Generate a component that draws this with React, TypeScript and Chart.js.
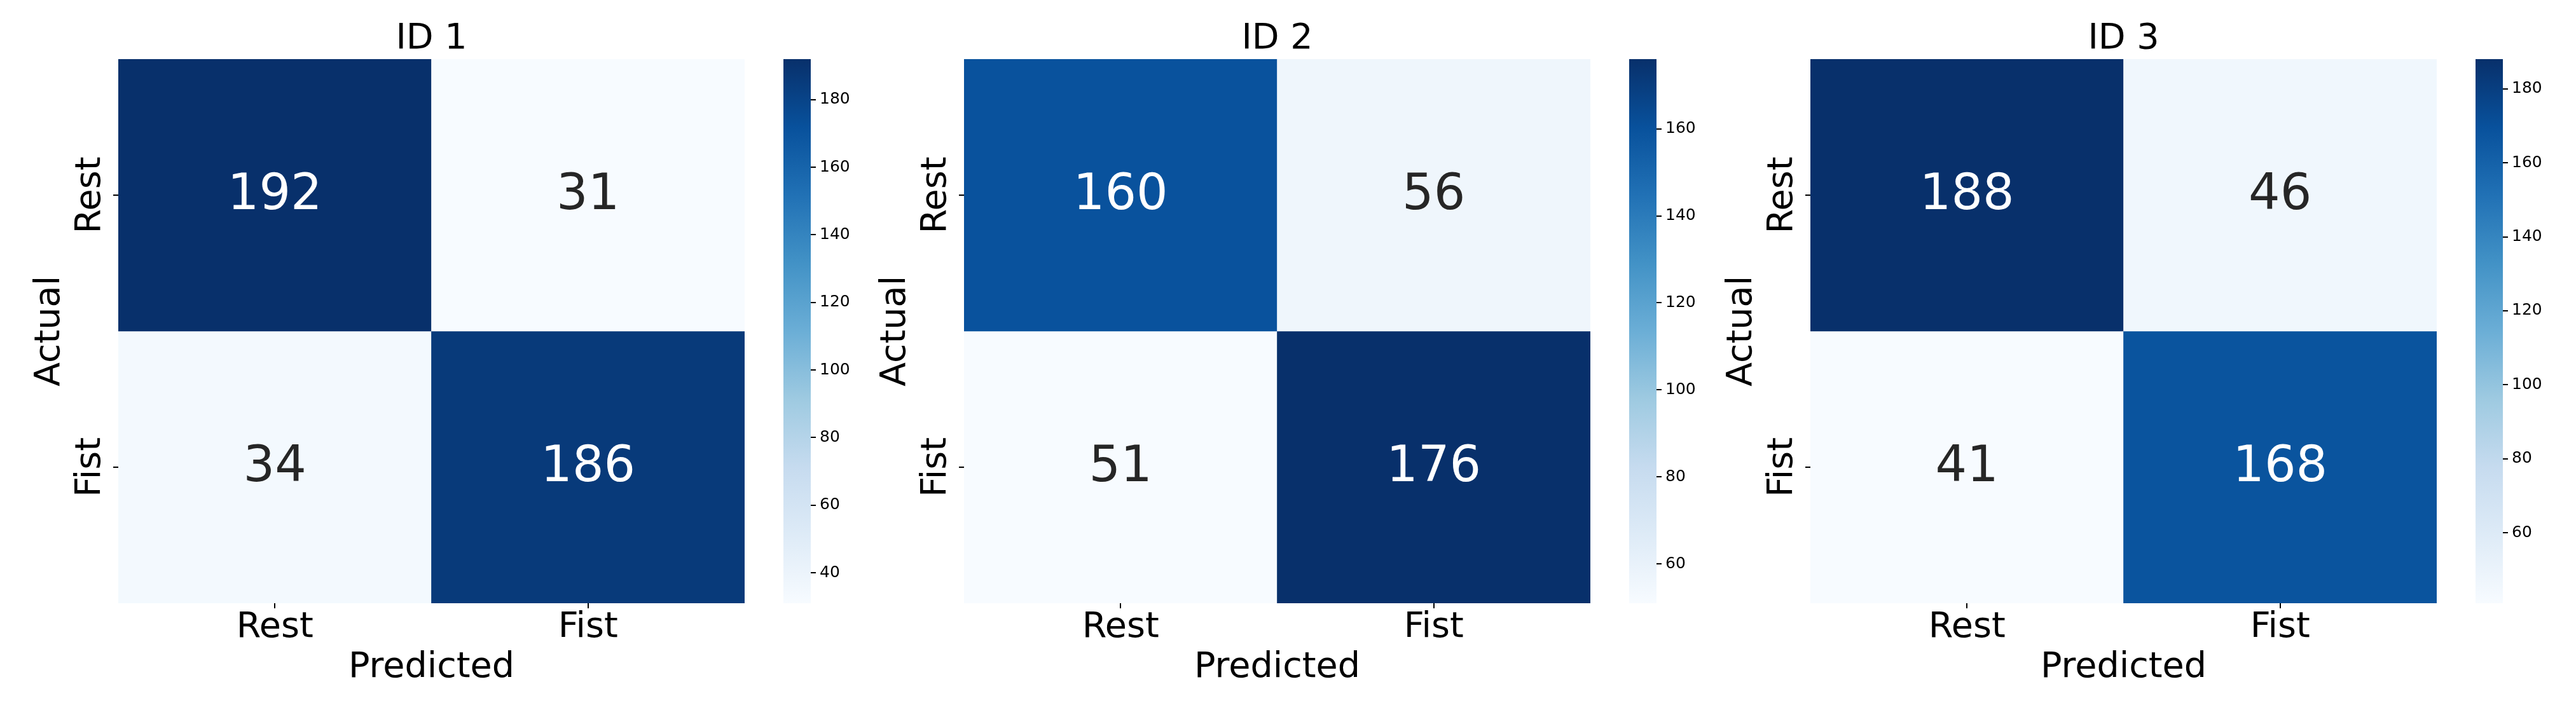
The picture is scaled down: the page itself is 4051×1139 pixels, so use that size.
import React, { useEffect, useRef } from 'react';
import { Chart, registerables } from 'chart.js';

Chart.register(...registerables);

// ---------------- data ----------------
const panelTitles = ['ID 1', 'ID 2', 'ID 3'];
const predictedLabels = ['Rest', 'Fist'];
const actualLabels = ['Rest', 'Fist'];
const id1Values = [
  [192, 31],
  [34, 186],
];
const id2Values = [
  [160, 56],
  [51, 176],
];
const id3Values = [
  [188, 46],
  [41, 168],
];
const id1ColorbarTicks = [40, 60, 80, 100, 120, 140, 160, 180];
const id2ColorbarTicks = [60, 80, 100, 120, 140, 160];
const id3ColorbarTicks = [60, 80, 100, 120, 140, 160, 180];
const xAxisTitle = 'Predicted';
const yAxisTitle = 'Actual';

const panelValues = [id1Values, id2Values, id3Values];
const panelTicks = [id1ColorbarTicks, id2ColorbarTicks, id3ColorbarTicks];

// matplotlib "Blues" colormap stops
const BLUES: number[][] = [
  [0.9686, 0.9843, 1.0],
  [0.8706, 0.9216, 0.9686],
  [0.7765, 0.8588, 0.9373],
  [0.6196, 0.7922, 0.8824],
  [0.4196, 0.6824, 0.8392],
  [0.2588, 0.5725, 0.7765],
  [0.1294, 0.4431, 0.7098],
  [0.0314, 0.3176, 0.6118],
  [0.0314, 0.1882, 0.4196],
];

// ---------------- layout ----------------
const FAMILY = "'DejaVu Sans', sans-serif";
const W = 4051;
const H = 1139;
const PANEL_X = [0, 1330, 2661];
const HEAT_W = 1356;
const AREA_LEFT = 186;
const AREA_RIGHT = 1171;
const AREA_TOP = 93;
const AREA_BOTTOM = 949;
const CB_OFFSET = 1200;
const CB_W = 200;
const CB_LEFT = 32;
const CB_RIGHT = 75;
const BIG = 55.6;
const ANNOT = 78;
const SMALL = 25;

function bluesRgb(t: number): number[] {
  const tt = Math.max(0, Math.min(1, t)) * (BLUES.length - 1);
  const i = Math.min(BLUES.length - 2, Math.floor(tt));
  const f = tt - i;
  const a = BLUES[i];
  const b = BLUES[i + 1];
  return [0, 1, 2].map((k) => a[k] + (b[k] - a[k]) * f);
}
function rgbStr(c: number[]): string {
  return `rgb(${Math.round(c[0] * 255)},${Math.round(c[1] * 255)},${Math.round(c[2] * 255)})`;
}
function luminance(c: number[]): number {
  const lin = c.map((v) => (v <= 0.03928 ? v / 12.92 : Math.pow((v + 0.055) / 1.055, 2.4)));
  return 0.2126 * lin[0] + 0.7152 * lin[1] + 0.0722 * lin[2];
}

function heatConfig(title: string, values: number[][]): any {
  const flat = values.flat();
  const vmin = Math.min(...flat);
  const vmax = Math.max(...flat);
  const norm = (v: number) => (v - vmin) / (vmax - vmin);
  const datasets = values.map((row, r) => ({
    label: actualLabels[r],
    data: row.map(() => [r, r + 1]),
    backgroundColor: row.map((v) => rgbStr(bluesRgb(norm(v)))),
    borderWidth: 0,
    categoryPercentage: 1,
    barPercentage: 1,
    grouped: false,
  }));
  const tickGrid = {
    display: true,
    drawOnChartArea: false,
    drawTicks: true,
    tickLength: 8,
    offset: false,
    color: '#000',
    lineWidth: 2,
  };
  const cellText = {
    id: 'cellText',
    afterDatasetsDraw(chart: any) {
      const ctx = chart.ctx;
      ctx.save();
      ctx.font = `${ANNOT}px ${FAMILY}`;
      ctx.textAlign = 'center';
      ctx.textBaseline = 'alphabetic';
      values.forEach((row, r) => {
        const meta = chart.getDatasetMeta(r);
        row.forEach((v, c) => {
          const el = meta.data[c];
          const cx = el.x;
          const cy = (el.y + el.base) / 2;
          ctx.fillStyle = luminance(bluesRgb(norm(v))) > 0.408 ? '#262626' : '#ffffff';
          ctx.fillText(String(v), cx, cy + 22);
        });
      });
      ctx.restore();
    },
  };
  return {
    type: 'bar',
    data: { labels: predictedLabels, datasets },
    options: {
      responsive: false,
      animation: false,
      events: [],
      layout: { padding: { left: 0, right: HEAT_W - AREA_RIGHT, top: 0, bottom: 0 } },
      plugins: {
        legend: { display: false },
        tooltip: { enabled: false },
        title: {
          display: true,
          text: title,
          fullSize: false,
          color: '#000',
          font: { size: BIG, family: FAMILY, weight: 'normal', lineHeight: 1.0 },
          padding: { top: 33.7, bottom: AREA_TOP - 33.7 - BIG },
        },
      },
      scales: {
        x: {
          type: 'category',
          offset: true,
          grid: tickGrid,
          border: { display: false },
          ticks: {
            color: '#000',
            font: { size: BIG, family: FAMILY },
            padding: -3,
            minRotation: 0,
            maxRotation: 0,
            autoSkip: false,
          },
          title: {
            display: true,
            text: xAxisTitle,
            color: '#000',
            font: { size: BIG, family: FAMILY },
            padding: { top: 0, bottom: 54.8 },
          },
          afterFit: (s: any) => {
            s.height = H - AREA_BOTTOM;
          },
        },
        y: {
          type: 'linear',
          min: 0,
          max: 2,
          reverse: true,
          afterBuildTicks: (s: any) => {
            s.ticks = actualLabels.map((_, i) => ({ value: i + 0.5 }));
          },
          grid: tickGrid,
          border: { display: false },
          ticks: {
            color: '#000',
            font: { size: BIG, family: FAMILY },
            minRotation: 90,
            maxRotation: 90,
            crossAlign: 'center',
            padding: -24.6,
            callback: (_v: any, i: number) => actualLabels[i],
          },
          title: {
            display: true,
            text: yAxisTitle,
            color: '#000',
            font: { size: BIG, family: FAMILY },
            padding: { top: 44.7, bottom: 0 },
          },
          afterFit: (s: any) => {
            s.width = AREA_LEFT;
          },
        },
      },
    },
    plugins: [cellText],
  };
}

function colorbarConfig(values: number[][], ticks: number[]): any {
  const flat = values.flat();
  const vmin = Math.min(...flat);
  const vmax = Math.max(...flat);
  return {
    type: 'bar',
    data: {
      labels: [''],
      datasets: [
        {
          data: [[vmin, vmax]],
          backgroundColor: (context: any) => {
            const chart = context.chart;
            const area = chart.chartArea;
            if (!area) return rgbStr(BLUES[4]);
            const g = chart.ctx.createLinearGradient(0, area.bottom, 0, area.top);
            BLUES.forEach((c, i) => g.addColorStop(i / (BLUES.length - 1), rgbStr(c)));
            return g;
          },
          borderWidth: 0,
          categoryPercentage: 1,
          barPercentage: 1,
        },
      ],
    },
    options: {
      responsive: false,
      animation: false,
      events: [],
      layout: { padding: { left: CB_LEFT, right: 0, top: AREA_TOP, bottom: H - AREA_BOTTOM } },
      plugins: { legend: { display: false }, tooltip: { enabled: false }, title: { display: false } },
      scales: {
        x: { display: false },
        y: {
          position: 'right',
          min: vmin,
          max: vmax,
          afterBuildTicks: (s: any) => {
            s.ticks = ticks.map((v) => ({ value: v }));
          },
          grid: { display: true, drawOnChartArea: false, drawTicks: true, tickLength: 8, color: '#000', lineWidth: 2 },
          border: { display: false },
          ticks: { color: '#000', font: { size: SMALL, family: FAMILY }, padding: 6 },
          afterFit: (s: any) => {
            s.width = CB_W - CB_RIGHT;
          },
        },
      },
    },
  };
}

export default function App() {
  const refs = useRef<(HTMLCanvasElement | null)[]>([]);
  useEffect(() => {
    Chart.defaults.font.family = FAMILY;
    const charts: Chart[] = [];
    panelTitles.forEach((t, i) => {
      const hc = refs.current[i * 2];
      const cc = refs.current[i * 2 + 1];
      if (hc) charts.push(new Chart(hc, heatConfig(t, panelValues[i])));
      if (cc) charts.push(new Chart(cc, colorbarConfig(panelValues[i], panelTicks[i])));
    });
    return () => charts.forEach((c) => c.destroy());
  }, []);
  return (
    <div
      style={{
        position: 'fixed',
        left: 0,
        top: 0,
        width: W,
        height: H,
        background: '#ffffff',
        overflow: 'hidden',
      }}
    >
      {panelTitles.map((t, i) => (
        <React.Fragment key={t}>
          <canvas
            ref={(el) => {
              refs.current[i * 2] = el;
            }}
            width={HEAT_W}
            height={H}
            style={{ position: 'absolute', left: PANEL_X[i], top: 0, width: HEAT_W, height: H }}
          />
          <canvas
            ref={(el) => {
              refs.current[i * 2 + 1] = el;
            }}
            width={CB_W}
            height={H}
            style={{ position: 'absolute', left: PANEL_X[i] + CB_OFFSET, top: 0, width: CB_W, height: H }}
          />
        </React.Fragment>
      ))}
    </div>
  );
}
